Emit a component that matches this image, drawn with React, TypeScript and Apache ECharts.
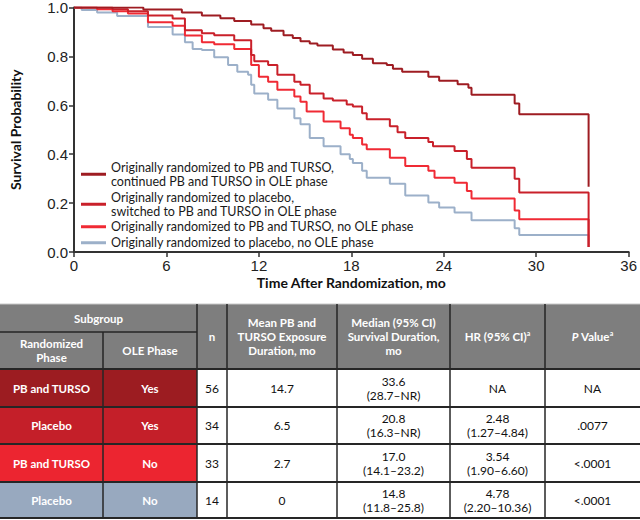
import React, { useEffect, useRef } from "react";
import * as echarts from "echarts";

// ---------- chart data ----------
const seriesNames = [
  "Originally randomized to PB and TURSO,\ncontinued PB and TURSO in OLE phase",
  "Originally randomized to placebo,\nswitched to PB and TURSO in OLE phase",
  "Originally randomized to PB and TURSO, no OLE phase",
  "Originally randomized to placebo, no OLE phase",
];
const seriesColors = ["#9e1c22", "#c9202a", "#f02a34", "#9cb0c9"];

// [months, survival probability]
const pbTursoContinued: [number, number][] = [
  [0, 1], [4.5, 0.992], [7.0, 0.98], [8.3, 0.967], [9.5, 0.956], [10.4, 0.945],
  [11.5, 0.93], [12.3, 0.915], [12.8, 0.905], [13.6, 0.887], [14.2, 0.875],
  [14.7, 0.862], [15.3, 0.853], [15.8, 0.845], [16.8, 0.828], [17.5, 0.816],
  [18.1, 0.806], [18.7, 0.79], [19.4, 0.772], [20.3, 0.765], [20.7, 0.75],
  [21.3, 0.737], [23.0, 0.717], [23.7, 0.70], [24.9, 0.686], [25.6, 0.672],
  [25.8, 0.643], [28.6, 0.607], [28.9, 0.563], [33.4, 0.563], [33.4, 0.267],
];
const placeboSwitched: [number, number][] = [
  [0, 1], [2.5, 0.993], [3.5, 0.985], [4.8, 0.967], [6.4, 0.955], [7.2, 0.907],
  [8.3, 0.895], [9.1, 0.887], [10.4, 0.866], [11.5, 0.806], [11.7, 0.78],
  [12.6, 0.765], [13.2, 0.725], [14.3, 0.696], [14.7, 0.684], [15.3, 0.648],
  [16.2, 0.628], [16.8, 0.62], [17.7, 0.603], [18.1, 0.595], [18.7, 0.567],
  [19.0, 0.543], [20.5, 0.514], [21.0, 0.49], [21.5, 0.466], [23.0, 0.45],
  [23.3, 0.433], [24.7, 0.413], [25.5, 0.38], [25.8, 0.345], [28.6, 0.30],
  [28.9, 0.243], [33.4, 0.243], [33.4, 0.02],
];
const pbTursoNoOle: [number, number][] = [
  [0, 1], [1.5, 0.993], [2.5, 0.985], [3.5, 0.975], [4.8, 0.94], [6.4, 0.925],
  [7.2, 0.885], [8.3, 0.858], [9.1, 0.85], [10.4, 0.83], [11.5, 0.765],
  [12.0, 0.717], [12.6, 0.696], [13.2, 0.664], [14.3, 0.636], [14.7, 0.615],
  [15.1, 0.575], [16.2, 0.534], [17.3, 0.506], [17.9, 0.48], [18.1, 0.466],
  [18.7, 0.44], [19.0, 0.42], [20.5, 0.385], [21.5, 0.352], [23.0, 0.332],
  [23.4, 0.304], [24.7, 0.283], [25.5, 0.25], [25.8, 0.219], [28.6, 0.17],
  [28.9, 0.134], [33.4, 0.134], [33.4, 0.02],
];
const placeboNoOle: [number, number][] = [
  [0, 1], [0.5, 0.99], [1.5, 0.98], [2.8, 0.965], [4.8, 0.92], [6.4, 0.89],
  [7.2, 0.858], [7.7, 0.83], [8.3, 0.826], [9.1, 0.797], [10.0, 0.765],
  [10.6, 0.737], [11.3, 0.725], [11.5, 0.684], [11.7, 0.648], [12.6, 0.623],
  [13.2, 0.587], [14.3, 0.547], [14.7, 0.522], [15.3, 0.466], [16.2, 0.433],
  [17.3, 0.40], [17.9, 0.38], [18.1, 0.364], [18.7, 0.332], [19.0, 0.304],
  [20.5, 0.279], [21.5, 0.231], [23.0, 0.202], [23.7, 0.182], [24.7, 0.162],
  [25.8, 0.13], [28.6, 0.097], [28.9, 0.07], [33.4, 0.07], [33.4, 0.02],
];
const seriesData = [pbTursoContinued, placeboSwitched, pbTursoNoOle, placeboNoOle];

const xAxisMin = 0;
const xAxisMax = 36;
const xAxisInterval = 6;
const yAxisMin = 0;
const yAxisMax = 1;
const yAxisInterval = 0.2;
const xAxisTitle = "Time After Randomization, mo";
const yAxisTitle = "Survival Probability";

// ---------- table data ----------
const subgroupRandomized = ["PB and TURSO", "Placebo", "PB and TURSO", "Placebo"];
const subgroupOle = ["Yes", "Yes", "No", "No"];
const nPatients = ["56", "34", "33", "14"];
const meanExposure = ["14.7", "6.5", "2.7", "0"];
const medianSurvival = ["33.6\n(28.7–NR)", "20.8\n(16.3–NR)", "17.0\n(14.1–23.2)", "14.8\n(11.8–25.8)"];
const hazardRatio = ["NA", "2.48\n(1.27–4.84)", "3.54\n(1.90–6.60)", "4.78\n(2.20–10.36)"];
const pValues = ["NA", ".0077", "<.0001", "<.0001"];
const rowFills = ["#9c1c21", "#c41f29", "#ec2530", "#98a9bf"];

const FONT = "Lato, 'Open Sans', sans-serif";
const NUMFONT = "'Liberation Sans', Arial, sans-serif";

function buildTable(): any[] {
  const els: any[] = [];
  const colX = [0, 103, 197, 227, 337, 450, 545, 640];
  const rowY = [304, 332, 369, 407, 444, 482, 518];
  const headerFill = "#7e7e7e";
  const lineColor = "#262626";

  const rect = (x1: number, y1: number, x2: number, y2: number, fill: string) =>
    els.push({ type: "rect", silent: true, shape: { x: x1, y: y1, width: x2 - x1, height: y2 - y1 }, style: { fill } });

  const text = (
    x1: number, y1: number, x2: number, y2: number, str: string,
    color: string, bold: boolean, rich?: any
  ) =>
    els.push({
      type: "text",
      silent: true,
      x: (x1 + x2) / 2,
      y: (y1 + y2) / 2,
      z: 10,
      style: {
        text: str,
        align: "center",
        verticalAlign: "middle",
        textAlign: "center",
        textVerticalAlign: "middle",
        fontFamily: FONT,
        fontSize: bold ? 11.5 : 12,
        lineHeight: 14,
        fontWeight: bold ? "bold" : "normal",
        fill: color,
        rich,
      },
    });

  const line = (x1: number, y1: number, x2: number, y2: number, w: number, c = lineColor) =>
    els.push({ type: "line", silent: true, z: 20, shape: { x1, y1, x2, y2 }, style: { stroke: c, lineWidth: w } });

  // header background
  rect(0, rowY[0], 640, rowY[2], headerFill);
  text(colX[0], rowY[0], colX[2], rowY[1], "Subgroup", "#fff", true);
  text(colX[0], rowY[1], colX[1], rowY[2], "Randomized\nPhase", "#fff", true);
  text(colX[1], rowY[1], colX[2], rowY[2], "OLE Phase", "#fff", true);
  text(colX[2], rowY[0], colX[3], rowY[2], "n", "#fff", true);
  text(colX[3], rowY[0], colX[4], rowY[2], "Mean PB and\nTURSO Exposure\nDuration, mo", "#fff", true);
  text(colX[4], rowY[0], colX[5], rowY[2], "Median (95% CI)\nSurvival Duration,\nmo", "#fff", true);
  const supRich = {
    b: { fontFamily: FONT, fontSize: 11.5, fontWeight: "bold", fill: "#fff", lineHeight: 14 },
    i: { fontFamily: FONT, fontSize: 11.5, fontWeight: "bold", fontStyle: "italic", fill: "#fff", lineHeight: 14 },
    s: { fontFamily: FONT, fontSize: 7, fontWeight: "bold", fill: "#fff", verticalAlign: "top", lineHeight: 14 },
  };
  text(colX[5], rowY[0], colX[6], rowY[2], "{b|HR (95% CI)}{s|a}", "#fff", true, supRich);
  text(colX[6], rowY[0], colX[7], rowY[2], "{i|P}{b| Value}{s|a}", "#fff", true, supRich);

  // body
  for (let i = 0; i < 4; i++) {
    const y1 = rowY[2 + i];
    const y2 = rowY[3 + i];
    rect(colX[0], y1, colX[2], y2, rowFills[i]);
    rect(colX[2], y1, colX[7], y2, "#ffffff");
    text(colX[0], y1, colX[1], y2, subgroupRandomized[i], "#fff", true);
    text(colX[1], y1, colX[2], y2, subgroupOle[i], "#fff", true);
    text(colX[2], y1, colX[3], y2, nPatients[i], "#111", false);
    text(colX[3], y1, colX[4], y2, meanExposure[i], "#111", false);
    text(colX[4], y1, colX[5], y2, medianSurvival[i], "#111", false);
    text(colX[5], y1, colX[6], y2, hazardRatio[i], "#111", false);
    text(colX[6], y1, colX[7], y2, pValues[i], "#111", false);
  }

  // grid lines
  line(0, rowY[0], 640, rowY[0], 1, "#c8c8c8");
  line(colX[0], rowY[1], colX[2], rowY[1], 1.5);
  line(colX[1], rowY[1], colX[1], rowY[6], 1.5);
  for (let c = 2; c <= 6; c++) line(colX[c], rowY[0], colX[c], rowY[6], 1.5);
  for (let r = 2; r <= 6; r++) line(0, rowY[r], 640, rowY[r], 2);
  return els;
}

export default function App() {
  const ref = useRef<HTMLDivElement>(null);

  useEffect(() => {
    if (!ref.current) return;
    const chart = echarts.init(ref.current, null, { renderer: "svg" });

    const legendIconCenters = [168, 198, 227, 243];
    const legends = seriesNames.map((name, i) => {
      const multi = name.includes("\n");
      const textStyle: any = {
        fontFamily: FONT,
        fontSize: 12.5,
        color: "#1a1a1a",
        lineHeight: 13.5,
      };
      if (multi) textStyle.height = 13.5;
      return {
        orient: "vertical",
        left: 81,
        top: legendIconCenters[i] - 7,
        padding: 0,
        icon: "rect",
        itemWidth: 25,
        itemHeight: 3,
        selectedMode: false,
        data: [name],
        textStyle,
      };
    });

    chart.setOption({
      animation: false,
      backgroundColor: "#ffffff",
      grid: { left: 70, right: 7, top: 5, bottom: 268, containLabel: false },
      legend: legends,
      xAxis: {
        type: "value",
        min: xAxisMin,
        max: xAxisMax,
        interval: xAxisInterval,
        name: xAxisTitle,
        nameLocation: "middle",
        nameGap: 23,
        nameTextStyle: { fontFamily: FONT, fontSize: 14, fontWeight: "bold", color: "#111" },
        axisLine: { show: true, lineStyle: { color: "#333", width: 2 } },
        axisTick: { show: true, inside: false, length: 5, lineStyle: { color: "#333", width: 1.5 } },
        axisLabel: { margin: 6, fontFamily: NUMFONT, fontSize: 15, color: "#222" },
        splitLine: { show: false },
      },
      yAxis: {
        type: "value",
        min: yAxisMin,
        max: yAxisMax,
        interval: yAxisInterval,
        name: yAxisTitle,
        nameLocation: "middle",
        nameGap: 52,
        nameTextStyle: { fontFamily: FONT, fontSize: 14, fontWeight: "bold", color: "#111" },
        axisLine: { show: true, lineStyle: { color: "#333", width: 2 } },
        axisTick: { show: true, inside: false, length: 5, lineStyle: { color: "#333", width: 1.5 } },
        axisLabel: {
          margin: 6,
          fontFamily: NUMFONT,
          fontSize: 15,
          color: "#222",
          formatter: (v: number) => v.toFixed(1),
        },
        splitLine: { show: false },
      },
      series: seriesData.map((d, i) => ({
        type: "line",
        name: seriesNames[i],
        data: d,
        step: "end",
        showSymbol: false,
        symbol: "none",
        color: seriesColors[i],
        lineStyle: { width: 2, color: seriesColors[i] },
        itemStyle: { color: seriesColors[i] },
        z: 4 - i,
      })),
      graphic: buildTable(),
    });

    return () => chart.dispose();
  }, []);

  return (
    <div
      ref={ref}
      style={{ position: "fixed", left: 0, top: 0, width: 640, height: 520, background: "#fff" }}
    />
  );
}
